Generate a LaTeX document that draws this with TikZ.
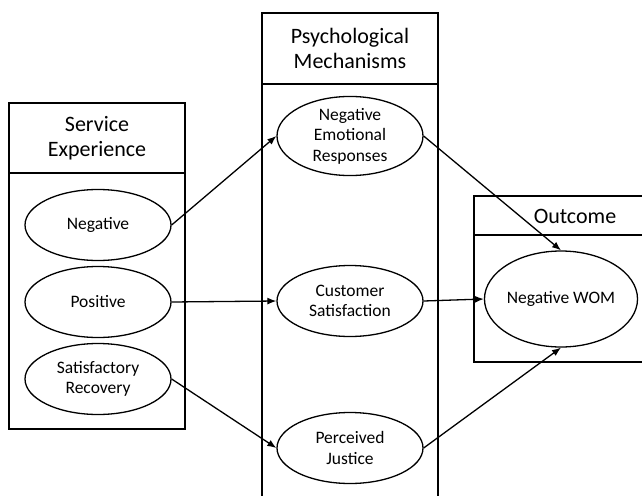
\documentclass[tikz,border=0pt]{standalone}
\usepackage{fontspec}
\setmainfont{Carlito}
\usetikzlibrary{shapes.geometric,arrows.meta}
\tikzset{
  construct/.style={draw,ellipse,line width=1.3pt,inner sep=0pt,minimum width=146pt,minimum height=71pt,align=center,font=\fontsize{17.5}{20.5}\selectfont},
  link/.style={line width=1.3pt,-{Latex[length=9pt,width=7pt]}},
  panel/.style={line width=1.3pt},
  heading/.style={align=center,font=\fontsize{22}{25}\selectfont}
}
\begin{document}
\begin{tikzpicture}[x=1pt,y=-1pt]
\useasboundingbox (0,0) rectangle (642,495);
% panels
\draw [panel] (9,103) rectangle (185,429);
\draw [panel] (9,173) -- (185,173);
\draw [panel] (262,13) rectangle (438,520);
\draw [panel] (262,84) -- (438,84);
\draw [panel] (474,196) rectangle (676,362);
\draw [panel] (474,235) -- (676,235);
\node [heading] (servhead) at (97,138) {Service\\Experience};
\node [heading] (psyhead) at (350,48) {Psychological\\Mechanisms};
\node [heading] (outhead) at (575,216) {Outcome};
% constructs
\node [construct] (neg) at (98,225) {Negative};
\node [construct] (pos) at (98,302) {Positive};
\node [construct] (rec) at (98,379) {Satisfactory\\Recovery};
\node [construct] (ner) at (350,136) {Negative\\Emotional\\Responses};
\node [construct] (cs) at (350,301) {Customer\\Satisfaction};
\node [construct] (pj) at (350,448) {Perceived\\Justice};
\node [construct,minimum width=144pt,minimum height=96pt] (wom) at (561,299) {Negative WOM};
% paths
\draw [link] (neg.east) -- (ner.west);
\draw [link] (pos.east) -- (cs.west);
\draw [link] (rec.east) -- (pj.west);
\draw [link] (ner.east) -- (wom.north);
\draw [link] (cs.east) -- (wom.west);
\draw [link] (pj.east) -- (wom.south);
\end{tikzpicture}
\end{document}
